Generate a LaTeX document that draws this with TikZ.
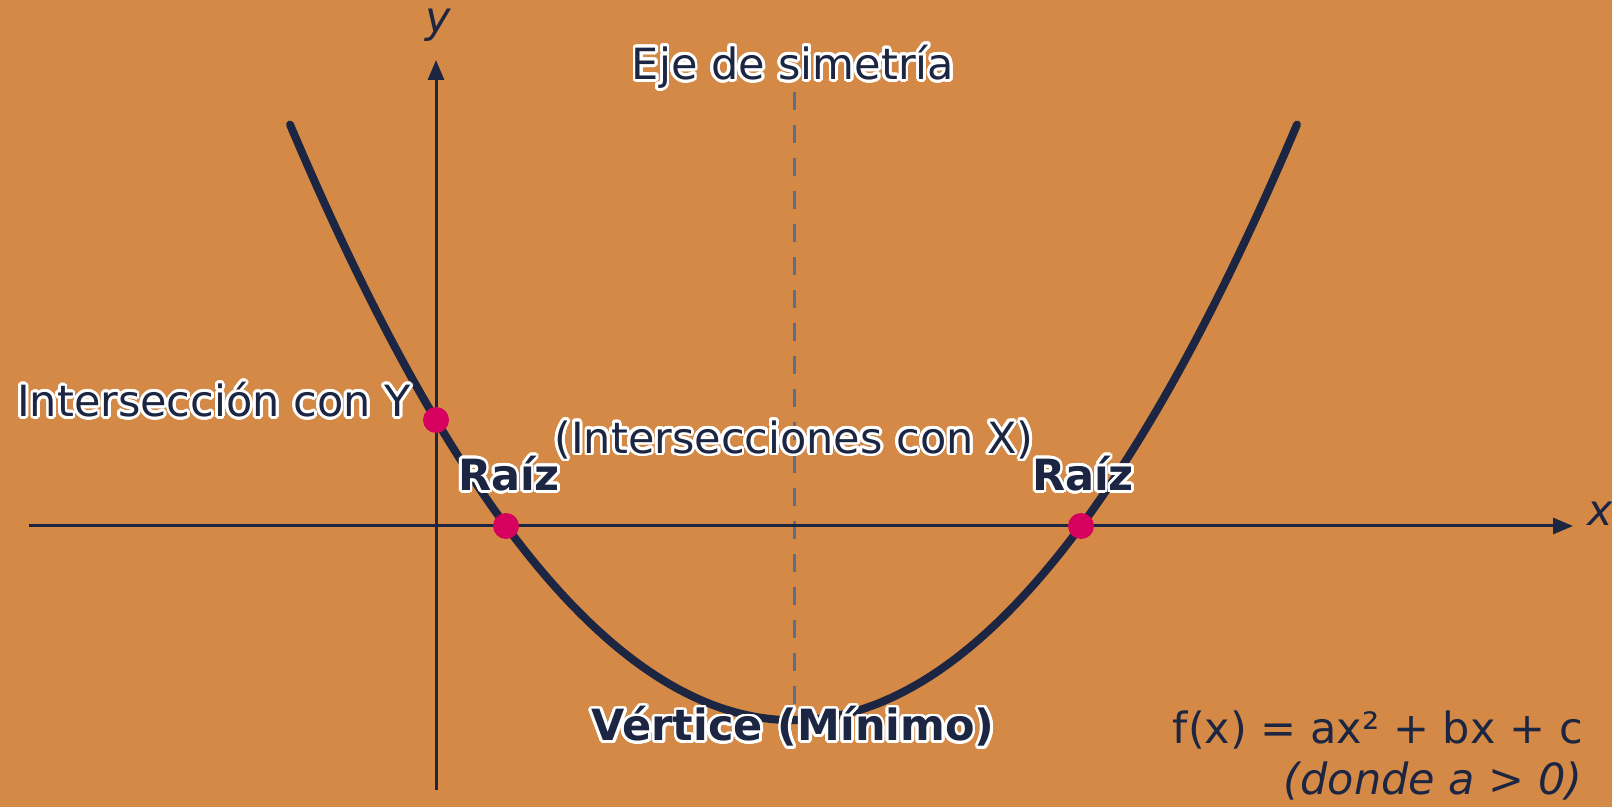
\documentclass[tikz,border=0pt]{standalone}
\usepackage{fontspec}
\setmainfont{DejaVu Sans}
\usepackage{contour}
\usetikzlibrary{positioning, arrows.meta}
\definecolor{bgorange}{RGB}{212,138,70}
\definecolor{ink}{RGB}{28,37,65}
\definecolor{rootpink}{RGB}{214,0,95}
\definecolor{axisgray}{RGB}{92,110,138}
\contourlength{1.4pt}
\contournumber{24}
\newcommand{\halo}[1]{\contour{white}{#1}}

\begin{document}
\begin{tikzpicture}[
    x=0.5pt, y={(0pt,-0.5pt)},
    font=\fontsize{21.5}{25}\selectfont,
    axis/.style={ink, line width=1.5pt, -{Triangle[length=10pt, width=8pt]}},
    curve/.style={ink, line width=4pt, line cap=round},
    symaxis/.style={axisgray, line width=1.5pt, dash pattern=on 9pt off 7.5pt},
    dot/.style={circle, fill=rootpink, inner sep=0pt, minimum size=13pt},
    lbl/.style={text=ink, inner sep=1pt},
    bold/.style={lbl, font=\fontsize{21.5}{25}\selectfont\bfseries}
]
    % background
    \fill[bgorange] (0,0) rectangle (1612,807);
    \useasboundingbox (0,0) rectangle (1612,807);

    % axis of symmetry
    \coordinate (symtop) at (794,92);
    \coordinate (symbot) at (794,712);
    \draw[symaxis] (symtop) -- (symbot);

    % axes
    \coordinate (xstart) at (29,526);
    \coordinate (xend) at (1573,526);
    \coordinate (ystart) at (436,790);
    \coordinate (yend) at (436,60);
    \draw[axis] (xstart) -- (xend);
    \draw[axis] (ystart) -- (yend);
    \node[lbl, font=\fontsize{21.5}{25}\selectfont\itshape] (xlbl) at (1600,514) {x};
    \node[lbl, font=\fontsize{21.5}{25}\selectfont\itshape] (ylbl) at (438,25) {y};

    % parabola
    \draw[curve] plot[domain=290:1297, samples=120, smooth]
        (\x, {526 - 23.5*((\x-506)/100)*((\x-1081)/100)});

    % points
    \node[dot] (yint) at (436,420) {};
    \node[dot] (rootl) at (506,526) {};
    \node[dot] (rootr) at (1081,526) {};

    % labels
    \node[lbl, anchor=east] (yintlbl) at (413,401) {\halo{Intersección con Y}};
    \node[bold] (rootllbl) at (509,475) {\halo{Raíz}};
    \node[bold] (rootrlbl) at (1083,475) {\halo{Raíz}};
    \node[lbl] (rootslbl) at (794,441) {\halo{(Intersecciones con X)}};
    \node[lbl] (symlbl) at (793,68) {\halo{Eje de simetría}};
    \node[bold] (vertexlbl) at (793,728) {\halo{Vértice (Mínimo)}};
    \node[lbl, anchor=east] (formula) at (1585,730) {f(x) = ax² + bx + c};
    \node[lbl, anchor=east, font=\fontsize{21.5}{25}\selectfont\itshape] (cond) [below=4pt of formula.south east, anchor=north east] {(donde a > 0)};
\end{tikzpicture}
\end{document}
